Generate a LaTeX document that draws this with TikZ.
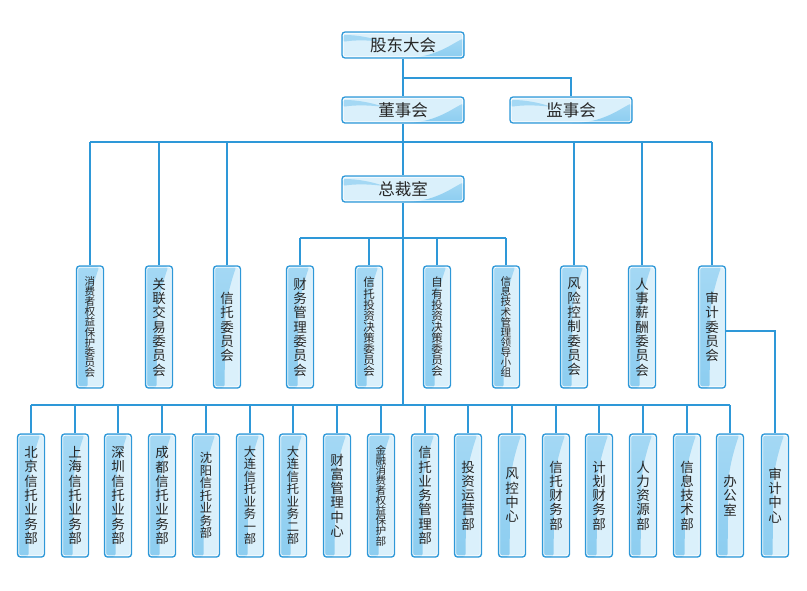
\documentclass[tikz,border=0pt]{standalone}
\usepackage{fontspec}
\setmainfont{Noto Sans CJK SC}
\definecolor{lb}{HTML}{2E98D8}
\definecolor{dk}{HTML}{A4D8F4}
\definecolor{dk2}{HTML}{8CCDF0}
\definecolor{lt}{HTML}{DAF0FB}
\definecolor{tx}{HTML}{262626}
\tikzset{
 conn/.style={draw=lb, line width=1.8pt},
 boxbase/.style={draw=lb, line width=1.3pt, rounded corners=3pt, inner sep=0pt, text=tx, fill=lt},
 hbox/.style={boxbase, minimum width=122pt, minimum height=26pt, font=\fontsize{16.5}{18}\selectfont,
   path picture={
     \coordinate (pnw) at (path picture bounding box.north west);
     \coordinate (pse) at (path picture bounding box.south east);
     \shade[top color=dk, bottom color=dk2] ([xshift=-62pt]pse) .. controls ([shift={(-30pt,0pt)}]pse) and ([shift={(-12pt,14pt)}]pse) .. ([shift={(0pt,20pt)}]pse) -- (pse) -- cycle;
     \fill[dk] ([shift={(0pt,-3pt)}]pnw) .. controls ([shift={(16pt,-3pt)}]pnw) and ([shift={(30pt,-6pt)}]pnw) .. ([shift={(42pt,-10pt)}]pnw) .. controls ([shift={(26pt,-8pt)}]pnw) and ([shift={(12pt,-8pt)}]pnw) .. ([shift={(0pt,-10pt)}]pnw) -- cycle;
     \draw[white, line width=0.8pt, rounded corners=2pt] ([shift={(1.3pt,-1.3pt)}]pnw) rectangle ([shift={(-1.3pt,1.3pt)}]pse);
   }},
 vbox/.style={boxbase, minimum width=27pt, align=center,
   path picture={
     \coordinate (pnw) at (path picture bounding box.north west);
     \coordinate (pne) at (path picture bounding box.north east);
     \coordinate (pse) at (path picture bounding box.south east);
     \coordinate (psw) at (path picture bounding box.south west);
     \shade[top color=dk, bottom color=dk2] (pnw) -- ([xshift=-4pt]pne) .. controls ([shift={(-9pt,-14pt)}]pne) and ([shift={(-14pt,-32pt)}]pne) .. ([shift={(-15pt,-48pt)}]pne) -- ([xshift=-16pt]pse) -- (psw) -- cycle;
     \draw[white, line width=0.8pt, rounded corners=2pt] ([shift={(1.3pt,-1.3pt)}]pnw) rectangle ([shift={(-1.3pt,1.3pt)}]pse);
   }},
 cbox/.style={vbox, minimum height=122pt},
 dbox/.style={vbox, minimum height=123pt},
 fa/.style={font=\fontsize{13.5}{14.3}\selectfont},
 fb/.style={font=\fontsize{12.3}{12.5}\selectfont},
 fc/.style={font=\fontsize{11.5}{11.1}\selectfont},
 fd/.style={font=\fontsize{10.6}{10.1}\selectfont},
}
\begin{document}
\begin{tikzpicture}[x=1pt,y=-1pt]
\useasboundingbox (0,0) rectangle (807,590);
% top
\node[hbox] (gd) at (403,45) {股东大会};
\node[hbox] (ds) at (403,110) {董事会};
\node[hbox] (js) at (571,110) {监事会};
\node[hbox] (zc) at (403,189) {总裁室};
% committees
\node[cbox,fd] (c1) at (90,327) {消\\费\\者\\权\\益\\保\\护\\委\\员\\会};
\node[cbox,fa] (c2) at (159,327) {关\\联\\交\\易\\委\\员\\会};
\node[cbox,fa] (c3) at (227,327) {信\\托\\委\\员\\会};
\node[cbox,fa] (c4) at (300,327) {财\\务\\管\\理\\委\\员\\会};
\node[cbox,fc] (c5) at (369,327) {信\\托\\投\\资\\决\\策\\委\\员\\会};
\node[cbox,fc] (c6) at (437,327) {自\\有\\投\\资\\决\\策\\委\\员\\会};
\node[cbox,fd] (c7) at (506,327) {信\\息\\技\\术\\管\\理\\领\\导\\小\\组};
\node[cbox,fa] (c8) at (574,327) {风\\险\\控\\制\\委\\员\\会};
\node[cbox,fa] (c9) at (642,327) {人\\事\\薪\\酬\\委\\员\\会};
\node[cbox,fa] (c10) at (712,327) {审\\计\\委\\员\\会};
% departments
\node[dbox,fa] (d1) at (31,495.5) {北\\京\\信\\托\\业\\务\\部};
\node[dbox,fa] (d2) at (75,495.5) {上\\海\\信\\托\\业\\务\\部};
\node[dbox,fa] (d3) at (118,495.5) {深\\圳\\信\\托\\业\\务\\部};
\node[dbox,fa] (d4) at (162,495.5) {成\\都\\信\\托\\业\\务\\部};
\node[dbox,fb] (d5) at (206,495.5) {沈\\阳\\信\\托\\业\\务\\部};
\node[dbox,fb] (d6) at (250,495.5) {大\\连\\信\\托\\业\\务\\一\\部};
\node[dbox,fb] (d7) at (293,495.5) {大\\连\\信\\托\\业\\务\\二\\部};
\node[dbox,fa] (d8) at (337,495.5) {财\\富\\管\\理\\中\\心};
\node[dbox,fd] (d9) at (381,495.5) {金\\融\\消\\费\\者\\权\\益\\保\\护\\部};
\node[dbox,fa] (d10) at (425,495.5) {信\\托\\业\\务\\管\\理\\部};
\node[dbox,fa] (d11) at (468,495.5) {投\\资\\运\\营\\部};
\node[dbox,fa] (d12) at (512,495.5) {风\\控\\中\\心};
\node[dbox,fa] (d13) at (556,495.5) {信\\托\\财\\务\\部};
\node[dbox,fa] (d14) at (599,495.5) {计\\划\\财\\务\\部};
\node[dbox,fa] (d15) at (643,495.5) {人\\力\\资\\源\\部};
\node[dbox,fa] (d16) at (687,495.5) {信\\息\\技\\术\\部};
\node[dbox,fa] (d17) at (730,495.5) {办\\公\\室};
\node[dbox,fa] (d18) at (775,495.5) {审\\计\\中\\心};
% connectors
\coordinate (j1) at (403,78);
\coordinate (j2) at (403,142);
\coordinate (j3) at (403,238);
\coordinate (j4) at (403,405);
\draw[conn] (gd.south) -- (ds.north);
\draw[conn] (j1) -| (js.north);
\draw[conn] (ds.south) -- (zc.north);
\draw[conn] (c1.north |- j2) -- (c10.north |- j2);
\foreach \n in {c1,c2,c3,c8,c9,c10} \draw[conn] (\n.north) -- (\n.north |- j2);
\draw[conn] (zc.south) -- (j4);
\draw[conn] (c4.north |- j3) -- (c7.north |- j3);
\foreach \n in {c4,c5,c6,c7} \draw[conn] (\n.north) -- (\n.north |- j3);
\draw[conn] (d1.north |- j4) -- (d17.north |- j4);
\foreach \n in {d1,d2,d3,d4,d5,d6,d7,d8,d9,d10,d11,d12,d13,d14,d15,d16,d17} \draw[conn] (\n.north) -- (\n.north |- j4);
\draw[conn] ([yshift=-4pt]c10.east) -| (d18.north);
\end{tikzpicture}
\end{document}
